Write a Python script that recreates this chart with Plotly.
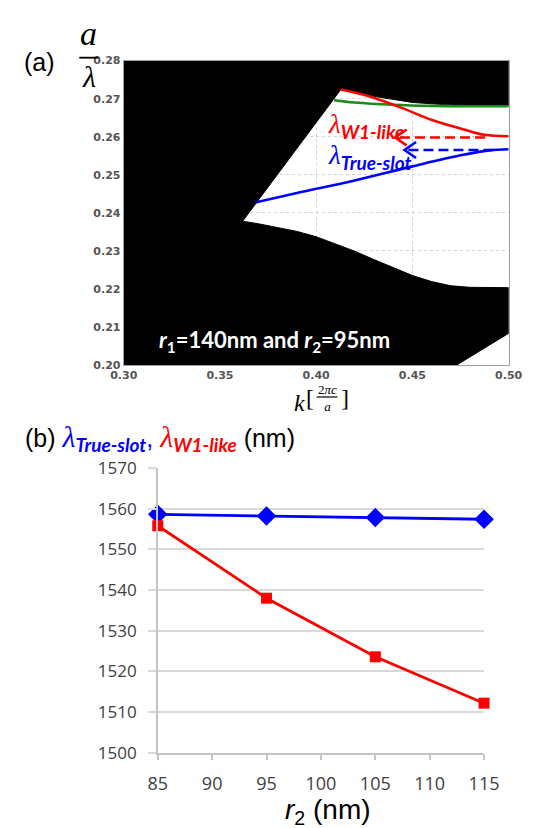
import plotly.graph_objects as go

W, H = 535, 828
def PX(x):
    return x / W
def PY(y):
    return 1 - y / H

# ---------------- Panel (a) data: normalized frequency a/lambda vs k ----------------
band_top_k = [0.3618, 0.4128, 0.43, 0.45, 0.47, 0.50]
band_top_f = [0.2378, 0.2724, 0.2706, 0.2690, 0.2683, 0.2681]
band_bot_k = [0.3618, 0.370, 0.380, 0.390, 0.400, 0.410, 0.420, 0.430, 0.440,
              0.450, 0.460, 0.470, 0.480, 0.490, 0.500]
band_bot_f = [0.2378, 0.2371, 0.2362, 0.2351, 0.2337, 0.2319, 0.2299, 0.2277, 0.2255,
              0.2235, 0.2219, 0.2208, 0.2204, 0.2203, 0.2203]
corner_k = [0.50, 0.4731]
corner_f = [0.2083, 0.20]
green_k = [0.4093, 0.42, 0.44, 0.46, 0.48, 0.50]
green_f = [0.2696, 0.2690, 0.2684, 0.2681, 0.2680, 0.2680]
red_k = [0.4128, 0.427, 0.4438, 0.4606, 0.4774, 0.4874, 0.50]
red_f = [0.2724, 0.2707, 0.2677, 0.2643, 0.2618, 0.2605, 0.2601]
blue_k = [0.3683, 0.39, 0.42, 0.45, 0.475, 0.49, 0.50]
blue_f = [0.2427, 0.2452, 0.2485, 0.2522, 0.2551, 0.2564, 0.2567]
arrow_f = [0.2598, 0.2565]
arrow_tail_k = [0.4877, 0.4921]
arrow_tip_k = [0.4410, 0.4459]
arrow_colors = ["#ff0000", "#0000ff"]

k_ticks = [0.30, 0.35, 0.40, 0.45, 0.50]
f_ticks = [0.20, 0.21, 0.22, 0.23, 0.24, 0.25, 0.26, 0.27, 0.28]

# ---------------- Panel (b) data ----------------
r2 = [85, 95, 105, 115]
lam_true_slot = [1558.6, 1558.2, 1557.8, 1557.4]
lam_w1_like = [1555.8, 1538.0, 1523.6, 1512.2]
r2_ticks = [85, 90, 95, 100, 105, 110, 115]
lam_ticks = [1500, 1510, 1520, 1530, 1540, 1550, 1560, 1570]

BLUE = "#0000ff"
RED = "#ff0000"
GREEN = "#1a8a1a"

fig = go.Figure()

# black (non-guided) regions; the upper one dips slightly to overlap the lower one (no seam)
upper_x = [0.30] + band_top_k + [0.50, 0.30]
upper_y = [band_top_f[0] - 0.003] + band_top_f + [0.28, 0.28]
lower_x = [0.30] + band_bot_k + corner_k + [0.30]
lower_y = [band_bot_f[0]] + band_bot_f + corner_f + [0.20]
for xs, ys in [(upper_x, upper_y), (lower_x, lower_y)]:
    fig.add_trace(go.Scatter(x=xs, y=ys, fill="toself", fillcolor="black", mode="lines",
                             line=dict(color="black", width=1), hoverinfo="skip",
                             showlegend=False, xaxis="x", yaxis="y"))

for xs, ys, col in [(green_k, green_f, GREEN), (red_k, red_f, RED), (blue_k, blue_f, BLUE)]:
    fig.add_trace(go.Scatter(x=xs, y=ys, mode="lines", line=dict(color=col, width=2.6, shape="spline"),
                             showlegend=False, xaxis="x", yaxis="y", hoverinfo="skip"))

# panel (b) lines
fig.add_trace(go.Scatter(x=r2, y=lam_true_slot, mode="lines+markers",
                         line=dict(color=BLUE, width=2.8),
                         marker=dict(symbol="diamond", size=15, color=BLUE),
                         cliponaxis=False, showlegend=False, xaxis="x2", yaxis="y2"))
fig.add_trace(go.Scatter(x=r2, y=lam_w1_like, mode="lines+markers",
                         line=dict(color=RED, width=2.8),
                         marker=dict(symbol="square", size=11, color=RED),
                         cliponaxis=False, showlegend=False, xaxis="x2", yaxis="y2"))

shapes = []
for yv, tail, tip, col in zip(arrow_f, arrow_tail_k, arrow_tip_k, arrow_colors):
    shapes.append(dict(type="line", xref="x", yref="y", x0=tail, x1=tip + 0.001, y0=yv, y1=yv,
                       line=dict(color=col, width=2.6, dash="10px,5px")))
    dx, dy = 0.006, 0.0021
    shapes.append(dict(type="path", xref="x", yref="y",
                       path=f"M {tip+dx},{yv+dy} L {tip},{yv} L {tip+dx},{yv-dy}",
                       line=dict(color=col, width=2.6)))
# fraction bar of a/lambda and of k-axis title
shapes.append(dict(type="line", xref="paper", yref="paper", x0=PX(69), x1=PX(89), y0=PY(47), y1=PY(47),
                   line=dict(color="black", width=1.8)))
shapes.append(dict(type="line", xref="paper", yref="paper", x0=PX(320), x1=PX(342), y0=PY(396), y1=PY(396),
                   line=dict(color="black", width=1.2)))

ann = []
def A(text, x, y, size, family="Liberation Sans", color="black", xanchor="center", yanchor="middle"):
    ann.append(dict(text=text, x=PX(x), y=PY(y), xref="paper", yref="paper", showarrow=False,
                    xanchor=xanchor, yanchor=yanchor,
                    font=dict(size=size, family=family, color=color)))

A("(a)", 27, 51, 25)
A("<i>a</i>", 79, 22, 34, family="Liberation Serif")
A("<i>λ</i>", 79, 66, 30, family="Liberation Serif")
A("<b><i>r</i><sub>1</sub>=140nm and <i>r</i><sub>2</sub>=95nm</b>", 151, 338, 22,
  family="Lato", color="white", xanchor="left")
A("<i>λ</i><sub><span style='font-family:Lato;font-size:19px'><b><i>W1-like</i></b></span></sub>",
  330, 117, 27, family="Liberation Serif", color=RED, xanchor="left")
A("<i>λ</i><sub><span style='font-family:Lato;font-size:19px'><b><i>True-slot</i></b></span></sub>",
  330, 149, 27, family="Liberation Serif", color=BLUE, xanchor="left")
# k-axis title: k [ 2πc / a ]
A("<i>k</i>", 302, 402, 24, family="Liberation Serif")
A("[", 313, 397, 24, family="Liberation Serif")
A("]", 350, 397, 24, family="Liberation Serif")
A("2<i>πc</i><br><i>a</i>", 331, 397, 13, family="Liberation Serif")
# panel (b) title
A("(b) <span style='color:#0000ff;font-family:Liberation Serif;font-size:30px'><i>λ</i></span>"
  "<span style='color:#0000ff'><sub><span style='font-family:Lato;font-size:19px'><b><i>True-slot</i></b></span></sub>,</span>"
  " <span style='color:#ff0000;font-family:Liberation Serif;font-size:30px'><i>λ</i></span>"
  "<span style='color:#ff0000'><sub><span style='font-family:Lato;font-size:19px'><b><i>W1-like</i></b></span></sub></span>"
  " (nm)", 10, 438, 25, xanchor="left")
A("<i>r</i><sub>2</sub> (nm)", 332, 822, 28)

fig.update_layout(
    width=W, height=H, margin=dict(l=0, r=0, t=0, b=0),
    paper_bgcolor="white", plot_bgcolor="white",
    shapes=shapes, annotations=ann,
    xaxis=dict(domain=[PX(116), PX(523)], range=[0.30, 0.50], tickvals=k_ticks,
               ticktext=[f"{v:.2f}" for v in k_ticks],
               tickfont=dict(family="DejaVu Sans", size=11, color="#555", weight="bold"),
               showgrid=True, gridcolor="#d4d4d4", griddash="dot", gridwidth=1,
               showline=True, linecolor="#a0a0a0", linewidth=1, mirror=True,
               zeroline=False, ticks="", anchor="y"),
    yaxis=dict(domain=[PY(363), PY(50)], range=[0.20, 0.28], tickvals=f_ticks,
               ticktext=[f"{v:.2f}" for v in f_ticks],
               tickfont=dict(family="DejaVu Sans", size=11, color="#555", weight="bold"),
               showgrid=True, gridcolor="#d4d4d4", griddash="dot", gridwidth=1,
               showline=True, linecolor="#a0a0a0", linewidth=1, mirror=True,
               zeroline=False, ticks="", anchor="x"),
    xaxis2=dict(domain=[PX(152), PX(497)], range=[85, 115], tickvals=r2_ticks,
                tickfont=dict(family="Open Sans", size=18, color="#404040"),
                showgrid=False, showline=True, linecolor="#c4c4c4", linewidth=1.5,
                ticks="outside", ticklen=5, tickcolor="#c4c4c4", tickwidth=1.5,
                zeroline=False, anchor="y2", ticklabelstandoff=9),
    yaxis2=dict(domain=[PY(762), PY(469)], range=[1500, 1570], tickvals=lam_ticks,
                tickfont=dict(family="Open Sans", size=17, color="#404040"),
                showgrid=True, gridcolor="#d9d9d9", gridwidth=1.5,
                showline=True, linecolor="#c4c4c4", linewidth=1.5,
                ticks="outside", ticklen=8, tickcolor="#d9d9d9", tickwidth=1.5,
                zeroline=False, anchor="x2", ticklabelstandoff=8),
)

fig.write_html("out.html")
